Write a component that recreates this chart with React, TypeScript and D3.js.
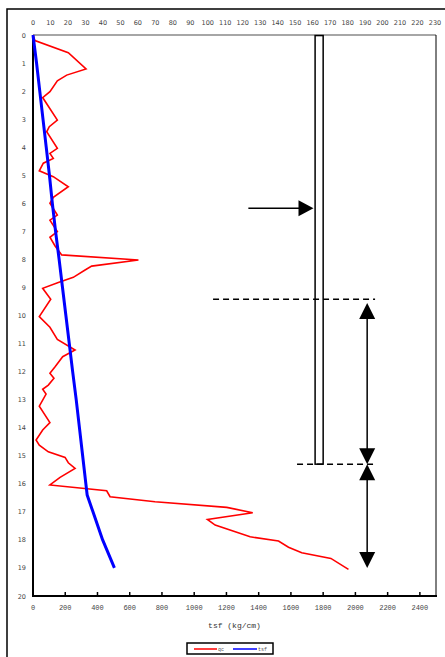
import React from "react";
import * as d3 from "d3";

// cone resistance qc, depth (m) vs value
const qcDepth = [0, 0.2, 0.63, 1.21, 1.43, 1.63, 2.02, 2.23, 3.03, 3.27, 3.45, 4.04, 4.22, 4.4, 4.57, 4.84, 5.05, 5.41, 5.79, 6.0, 6.42, 6.6, 7.01, 7.21, 7.52, 7.84, 8.02, 8.24, 8.38, 8.64, 8.82, 9.03, 9.42, 10.04, 10.42, 10.85, 11.23, 11.47, 11.83, 12.06, 12.24, 12.48, 12.63, 12.8, 13.23, 13.82, 14.08, 14.44, 14.62, 14.86, 15.06, 15.25, 15.45, 15.77, 16.04, 16.25, 16.46, 16.64, 16.84, 17.03, 17.27, 17.47, 17.89, 18.04, 18.26, 18.46, 18.66, 19.05];
const qcValue = [0, 12, 219, 329, 209, 151, 105, 60, 151, 101, 85, 151, 105, 126, 64, 39, 126, 219, 126, 105, 151, 105, 151, 105, 137, 178, 654, 364, 323, 250, 157, 60, 110, 39, 105, 151, 261, 184, 137, 105, 130, 95, 60, 81, 39, 105, 60, 19, 39, 95, 199, 219, 261, 168, 105, 457, 478, 757, 1202, 1363, 1082, 1130, 1347, 1523, 1585, 1667, 1848, 1957];

// tsf curve
const tsfDepth = [0, 1, 2, 3, 4, 5, 6, 7, 8, 9, 10, 11, 12, 13, 14, 15, 16, 16.4, 17, 18, 19];
const tsfValue = [0, 22, 42, 62, 82, 102, 120, 140, 162, 183, 204, 225, 246, 268, 288, 308, 328, 336, 372, 432, 505];

const bottomTicks = d3.range(0, 2401, 200);
const topTicks = d3.range(0, 231, 10);
const depthTicks = d3.range(0, 21, 1);

// annotation positions in data units (value, depth)
const pile = { x0: 1750, x1: 1800, d0: 0.02, d1: 15.3 };
const loadArrow = { x0: 1336, x1: 1740, d: 6.18 };
const upperDash = { x0: 1117, x1: 2122, d: 9.42 };
const lowerDash = { x0: 1638, x1: 2122, d: 15.3 };
const spanArrow = { x: 2073, top: 9.55, mid: 15.3, bottom: 19.0 };

const W = 445;
const H = 657;
const M = { left: 33, right: 436, top: 35, bottom: 596 };

export default function App() {
  const x = d3.scaleLinear().domain([0, 2500]).range([M.left, M.right]);
  const xTop = d3.scaleLinear().domain([0, 230]).range([M.left, M.right - 1]);
  const y = d3.scaleLinear().domain([0, 20]).range([M.top, M.bottom]);

  const line = d3
    .line<[number, number]>()
    .x((d) => x(d[0]))
    .y((d) => y(d[1]));

  const qcPts = qcValue.map((v, i) => [v, qcDepth[i]] as [number, number]);
  const tsfPts = tsfValue.map((v, i) => [v, tsfDepth[i]] as [number, number]);

  const head = 16;
  const hw = 8;
  const ax = x(spanArrow.x);
  const downHead = (tipY: number) =>
    `M${ax - hw},${tipY - head}L${ax + hw},${tipY - head}L${ax},${tipY}Z`;
  const upHead = (tipY: number) =>
    `M${ax - hw},${tipY + head}L${ax + hw},${tipY + head}L${ax},${tipY}Z`;

  const ly = y(loadArrow.d);
  const lx1 = x(loadArrow.x1);

  return (
    <svg
      width={W}
      height={H}
      style={{ position: "absolute", left: 0, top: 0, display: "block", background: "#fff" }}
    >
      {/* outer frame */}
      <rect x={7} y={9} width={460} height={680} fill="none" stroke="#000" strokeWidth={1.5} />

      {/* plot frame */}
      <line x1={M.left} x2={M.right} y1={M.top} y2={M.top} stroke="#888" strokeWidth={1.5} />
      <line x1={M.right} x2={M.right} y1={M.top} y2={M.bottom} stroke="#000" strokeWidth={1} />
      <line x1={M.left} x2={M.left} y1={M.top} y2={M.bottom + 1} stroke="#000" strokeWidth={2} />
      <line x1={M.left - 1} x2={M.right + 1} y1={M.bottom} y2={M.bottom} stroke="#000" strokeWidth={2} />

      {/* bottom ticks */}
      {bottomTicks.map((t) => (
        <g key={"b" + t}>
          <line x1={x(t)} x2={x(t)} y1={M.bottom - 4} y2={M.bottom} stroke="#000" strokeWidth={1.5} />
          <text
            x={x(t)}
            y={610}
            textAnchor="middle"
            fontFamily="Liberation Mono, monospace"
            fontSize={7}
            fill="#444"
          >
            {t}
          </text>
        </g>
      ))}
      <text
        x={(M.left + M.right) / 2}
        y={628}
        textAnchor="middle"
        fontFamily="Liberation Mono, monospace"
        fontSize={8}
        fill="#333"
      >
        tsf (kg/cm)
      </text>

      {/* top labels */}
      {topTicks.map((t) => (
        <text
          key={"t" + t}
          x={xTop(t)}
          y={25}
          textAnchor="middle"
          fontFamily="DejaVu Sans, sans-serif"
          fontSize={6.5}
          fill="#444"
        >
          {t}
        </text>
      ))}

      {/* depth labels */}
      {depthTicks.map((t) => (
        <text
          key={"d" + t}
          x={26}
          y={y(t) + 2.5}
          textAnchor="end"
          fontFamily="DejaVu Sans, sans-serif"
          fontSize={6.5}
          fill="#444"
        >
          {t}
        </text>
      ))}

      {/* data */}
      <path d={line(qcPts) || ""} fill="none" stroke="#ff0000" strokeWidth={1.6} strokeLinejoin="miter" />
      <path d={line(tsfPts) || ""} fill="none" stroke="#0000ff" strokeWidth={3} strokeLinejoin="round" />

      {/* pile */}
      <rect
        x={x(pile.x0)}
        y={y(pile.d0)}
        width={x(pile.x1) - x(pile.x0)}
        height={y(pile.d1) - y(pile.d0)}
        fill="#fff"
        stroke="#000"
        strokeWidth={1.5}
      />

      {/* load arrow */}
      <line x1={x(loadArrow.x0)} x2={lx1 - 12} y1={ly} y2={ly} stroke="#000" strokeWidth={1.5} />
      <path d={`M${lx1 - 15},${ly - 8}L${lx1 - 15},${ly + 8}L${lx1},${ly}Z`} fill="#000" />

      {/* dashed levels */}
      <line
        x1={x(upperDash.x0)}
        x2={x(upperDash.x1)}
        y1={y(upperDash.d)}
        y2={y(upperDash.d)}
        stroke="#000"
        strokeWidth={1.5}
        strokeDasharray="6,4"
      />
      <line
        x1={x(lowerDash.x0)}
        x2={x(lowerDash.x1)}
        y1={y(lowerDash.d)}
        y2={y(lowerDash.d)}
        stroke="#000"
        strokeWidth={1.5}
        strokeDasharray="6,4"
      />

      {/* span arrows */}
      <line x1={ax} x2={ax} y1={y(spanArrow.top) + 10} y2={y(spanArrow.mid) - 10} stroke="#000" strokeWidth={1.5} />
      <path d={upHead(y(spanArrow.top))} fill="#000" />
      <path d={downHead(y(spanArrow.mid))} fill="#000" />
      <line x1={ax} x2={ax} y1={y(spanArrow.mid) + 10} y2={y(spanArrow.bottom) - 10} stroke="#000" strokeWidth={1.5} />
      <path d={upHead(y(spanArrow.mid))} fill="#000" />
      <path d={downHead(y(spanArrow.bottom))} fill="#000" />

      {/* legend */}
      <rect x={187} y={643} width={86} height={11} fill="#fff" stroke="#000" strokeWidth={1.5} />
      <line x1={194} x2={217} y1={649} y2={649} stroke="#ff0000" strokeWidth={1.5} />
      <text x={218} y={651} fontFamily="Liberation Mono, monospace" fontSize={5} fill="#555">
        qc
      </text>
      <line x1={233} x2={257} y1={649} y2={649} stroke="#0000ff" strokeWidth={1.5} />
      <text x={258} y={651} fontFamily="Liberation Mono, monospace" fontSize={5} fill="#555">
        tsf
      </text>
    </svg>
  );
}
